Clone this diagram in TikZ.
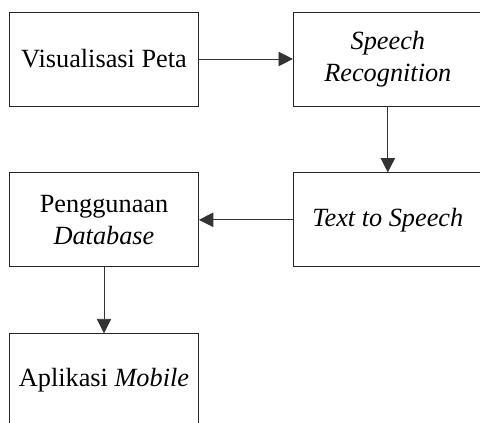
\documentclass[tikz,border=0pt]{standalone}
\usepackage{fontspec}
\setmainfont{Liberation Serif}
\usepackage{tikz}
\usetikzlibrary{arrows.meta,positioning}

\begin{document}
\begin{tikzpicture}[>={Triangle[length=0.36cm,width=0.36cm]},
  kotak/.style={draw=black!85,line width=0.6pt,minimum width=4.725cm,minimum height=2.35cm,
    align=center,inner sep=0pt,font=\fontsize{18.7}{22.7}\selectfont},
  panah/.style={->,line width=0.6pt,black!80}]
\clip(0,0)rectangle(12,10.575);
\node[kotak](peta)at(2.6,9.1){Visualisasi Peta};
\node[kotak,right=2.35cm of peta](speech){\textit{Speech}\\\textit{Recognition}};
\node[kotak,below=1.65cm of speech](tts){\textit{Text to Speech}};
\node[kotak,below=1.65cm of peta](db){Penggunaan\\\textit{Database}};
\node[kotak,below=1.65cm of db](mobile){Aplikasi \textit{Mobile}};
\draw[panah](peta)--(speech);
\draw[panah](speech)--(tts);
\draw[panah](tts)--(db);
\draw[panah](db)--(mobile);
\end{tikzpicture}
\end{document}
